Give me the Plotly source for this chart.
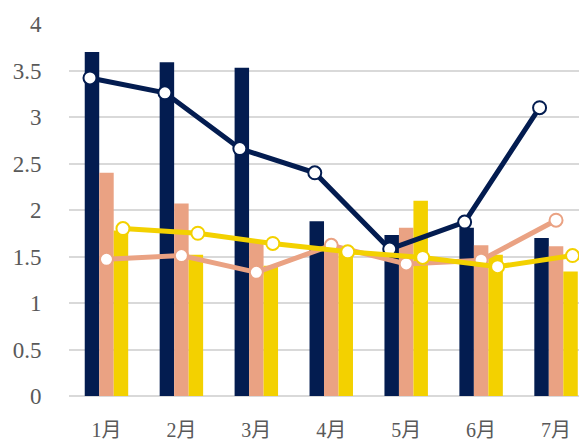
import plotly.graph_objects as go

months = ["1月", "2月", "3月", "4月", "5月", "6月", "7月"]

bar_navy = [3.70, 3.59, 3.53, 1.88, 1.73, 1.81, 1.70]
bar_salmon = [2.40, 2.07, 1.65, 1.62, 1.81, 1.62, 1.61]
bar_yellow = [1.78, 1.52, 1.40, 1.55, 2.10, 1.52, 1.34]

line_navy = [3.42, 3.26, 2.66, 2.40, 1.58, 1.87, 3.10]
line_salmon = [1.47, 1.51, 1.33, 1.62, 1.42, 1.46, 1.89]
line_yellow = [1.80, 1.75, 1.64, 1.55, 1.49, 1.39, 1.51]

y_ticks = [0, 0.5, 1, 1.5, 2, 2.5, 3, 3.5, 4]
y_tick_text = ["0", "0.5", "1", "1.5", "2", "2.5", "3", "3.5", "4"]

NAVY = "#031C50"
SALMON = "#EAA283"
YELLOW = "#F3D100"

fig = go.Figure()
for vals, col, grp in [(bar_navy, NAVY, "a"), (bar_salmon, SALMON, "b"), (bar_yellow, YELLOW, "c")]:
    fig.add_trace(go.Bar(x=months, y=vals, marker=dict(color=col, line=dict(width=0)),
                         offsetgroup=grp, alignmentgroup="g", showlegend=False))

for vals, col, grp in [(line_navy, NAVY, "a"), (line_salmon, SALMON, "b"), (line_yellow, YELLOW, "c")]:
    fig.add_trace(go.Scatter(x=months, y=vals, mode="lines+markers",
                             line=dict(color=col, width=5),
                             marker=dict(size=13, color="white", line=dict(color=col, width=2)),
                             offsetgroup=grp, alignmentgroup="g", showlegend=False))

font_fam = "Liberation Serif, DejaVu Serif, Noto Sans CJK JP, serif"
# page body has an 8px default margin, so the figure is 8px smaller than the window
fig.update_layout(
    width=579, height=433,
    margin=dict(l=61, r=0, t=16, b=45),
    paper_bgcolor="white", plot_bgcolor="white",
    barmode="group", bargap=0.42, bargroupgap=0,
    scattermode="group", scattergap=0.34,
    font=dict(family=font_fam, color="#595959", size=21),
    showlegend=False,
)
fig.update_xaxes(type="category", range=[-0.5, 6.413], showgrid=False, showline=False,
                 ticks="outside", ticklen=16, tickcolor="rgba(0,0,0,0)",
                 tickfont=dict(family=font_fam, size=20, color="#595959"))
fig.update_yaxes(range=[0, 4], tickvals=y_ticks, ticktext=y_tick_text,
                 showgrid=True, gridcolor="#D9D9D9", gridwidth=2,
                 zeroline=True, zerolinecolor="#D9D9D9", zerolinewidth=2,
                 showline=False, ticks="outside", ticklen=22, tickcolor="rgba(0,0,0,0)",
                 tickfont=dict(family=font_fam, size=23, color="#595959"))

fig.write_html("out.html")
